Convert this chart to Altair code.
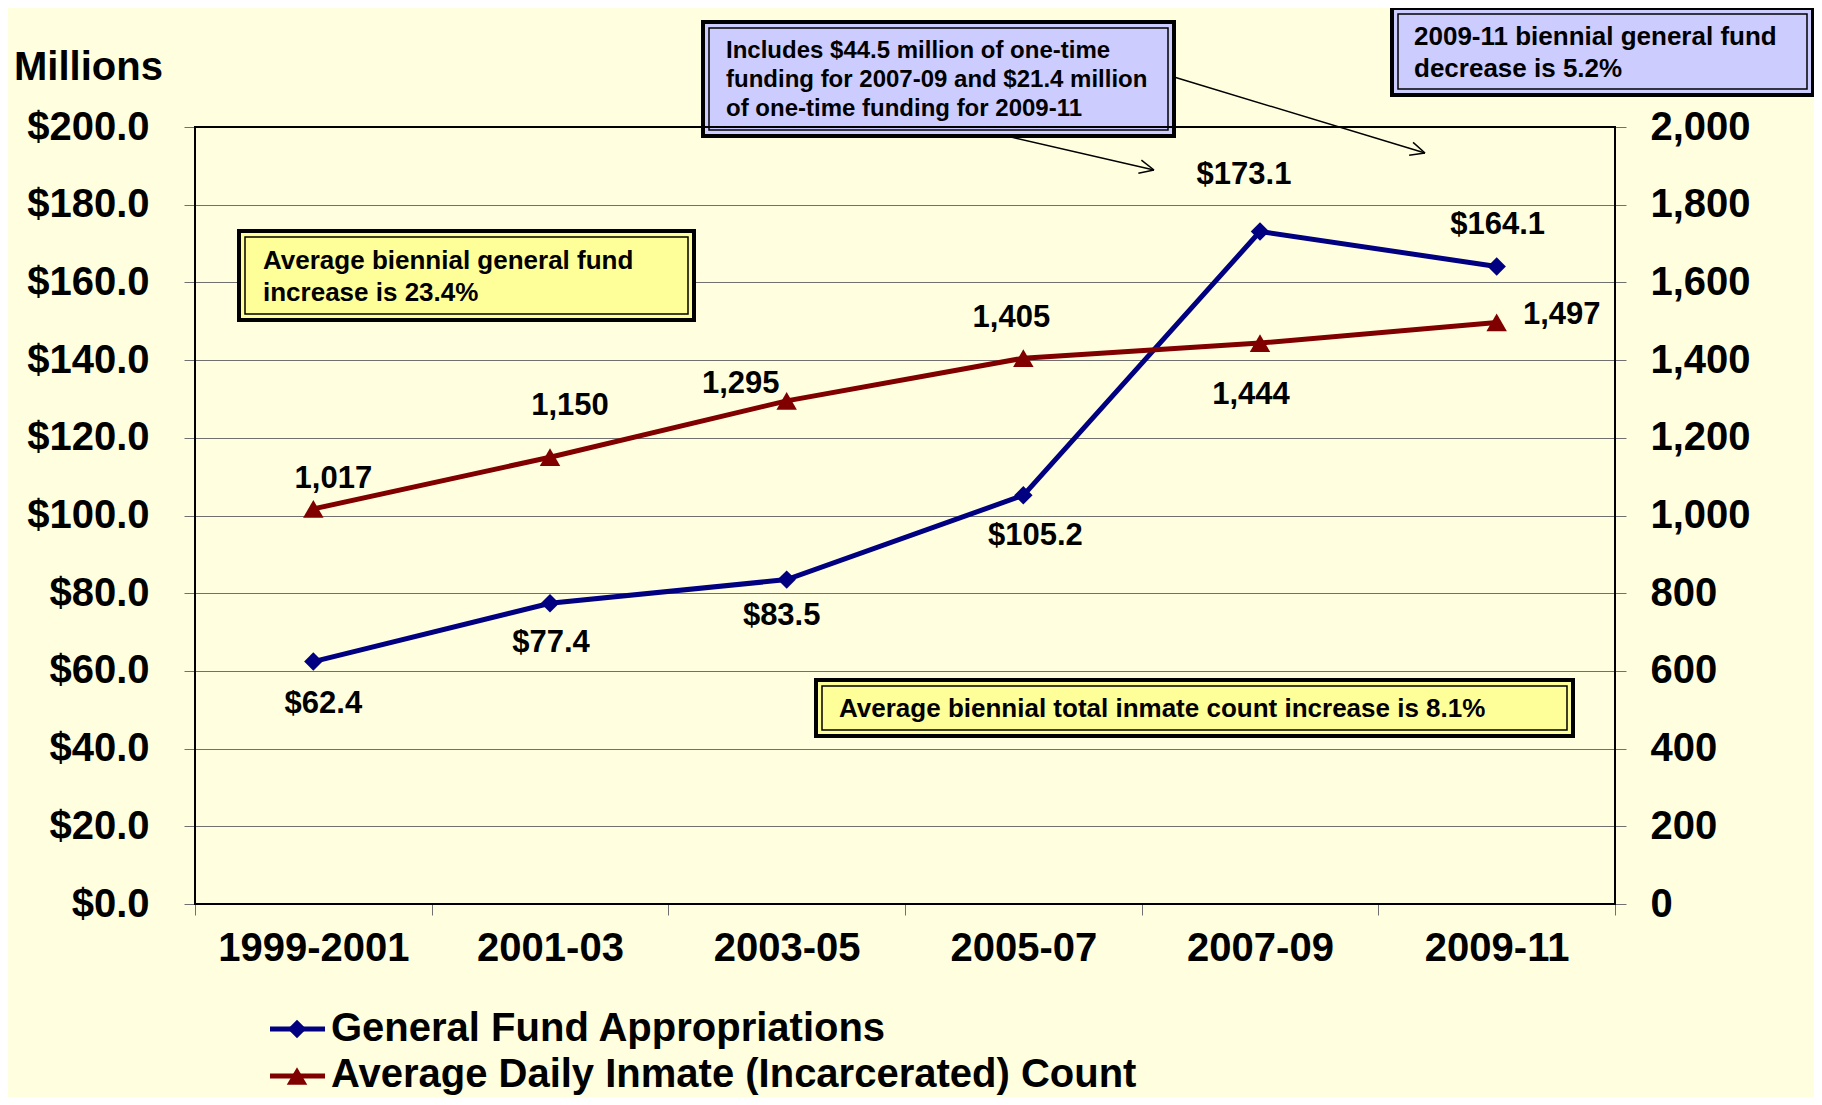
import altair as alt
import pandas as pd
import numpy as np

# ---------------- data ----------------
periods = ["1999-2001", "2001-03", "2003-05", "2005-07", "2007-09", "2009-11"]
fund = [62.4, 77.4, 83.5, 105.2, 173.1, 164.1]
inmates = [1017, 1150, 1295, 1405, 1444, 1497]

fund_ticks = list(range(0, 201, 20))
inmate_ticks = list(range(0, 2001, 200))

# label offsets (layout, pixels)
fund_offsets = [(10, 42), (1, 40), (-5, 36), (12, 41), (-16, -57), (1, -41)]
inmate_offsets = [(20, -30), (20, -51), (-46, -17), (-12, -40), (-9, 52), (65, -7)]

df = pd.DataFrame({"period": periods, "fund": fund, "inmates": inmates})

# ---------------- style ----------------
W, H = 1420, 777
BG = "#FFFFE0"
FONT = "Liberation Sans"
NAVY = "#000080"
MAROON = "#800000"
GRID = "#707070"
YELLOW = "#FFFF99"
LAVENDER = "#CCCCFF"
AXFS = 40

x_enc = alt.X(
    "period:N", sort=periods, bandPosition=0.5,
    scale=alt.Scale(type="band", paddingInner=0, paddingOuter=0),
    axis=alt.Axis(title=None, labelAngle=0, tickBand="extent", domain=False,
                  tickSize=11, tickColor=GRID, labelPadding=13, labelLimit=0,
                  labelFont=FONT, labelFontSize=AXFS, labelFontWeight="bold",
                  labelColor="black", grid=False),
)

y_fund = alt.Y(
    "fund:Q", scale=alt.Scale(domain=[0, 200], nice=False, zero=True),
    axis=alt.Axis(orient="left", title=None, values=fund_ticks, format="$.1f",
                  grid=True, gridColor=GRID, gridWidth=1, domain=False,
                  tickSize=11, tickColor=GRID, labelPadding=35, labelLimit=0,
                  labelFont=FONT, labelFontSize=AXFS, labelFontWeight="bold",
                  labelColor="black"),
)

y_inm = alt.Y(
    "inmates:Q", scale=alt.Scale(domain=[0, 2000], nice=False, zero=True),
    axis=alt.Axis(orient="right", title=None, values=inmate_ticks, format=",d",
                  grid=False, domain=False,
                  tickSize=11, tickColor=GRID, labelPadding=24, labelLimit=0,
                  labelFont=FONT, labelFontSize=AXFS, labelFontWeight="bold",
                  labelColor="black"),
)

base = alt.Chart(df)

fund_line = base.mark_line(color=NAVY, strokeWidth=5).encode(x=x_enc, y=y_fund)
fund_pts = base.mark_point(shape="diamond", filled=True, size=340, color=NAVY,
                           opacity=1).encode(x=x_enc, y=y_fund)
fund_labels = [
    base.transform_filter(alt.datum.period == p).mark_text(
        dx=dx, dy=dy, font=FONT, fontSize=31, fontWeight="bold", color="black",
        align="center", baseline="middle").encode(
        x=x_enc, y=y_fund, text=alt.Text("fund:Q", format="$.1f"))
    for p, (dx, dy) in zip(periods, fund_offsets)
]
fund_layer = alt.layer(fund_line, fund_pts, *fund_labels)

inm_line = base.mark_line(color=MAROON, strokeWidth=5).encode(x=x_enc, y=y_inm)
inm_pts = base.mark_point(shape="triangle-up", filled=True, size=420, color=MAROON,
                          opacity=1).encode(x=x_enc, y=y_inm)
inm_labels = [
    base.transform_filter(alt.datum.period == p).mark_text(
        dx=dx, dy=dy, font=FONT, fontSize=31, fontWeight="bold", color="black",
        align="center", baseline="middle").encode(
        x=x_enc, y=y_inm, text=alt.Text("inmates:Q", format=",d"))
    for p, (dx, dy) in zip(periods, inmate_offsets)
]
inm_layer = alt.layer(inm_line, inm_pts, *inm_labels)

# ---------------- annotations ----------------
one = alt.Data(values=[{"k": 1}])


def rect(x1, y1, x2, y2, fill, sw, opacity=1.0):
    return alt.Chart(one).mark_rect(fill=fill, fillOpacity=opacity, stroke="black",
                                    strokeWidth=sw).encode(
        x=alt.value(x1), x2=alt.value(x2), y=alt.value(y1), y2=alt.value(y2))


def box(x1, y1, x2, y2, fill):
    return [rect(x1, y1, x2, y2, fill, 4),
            rect(x1 + 6, y1 + 6, x2 - 6, y2 - 6, fill, 1.5, 0)]


def text(x, y, s, size, align="left"):
    return alt.Chart(one).mark_text(align=align, baseline="middle", font=FONT,
                                    fontWeight="bold", fontSize=size,
                                    color="black").encode(
        x=alt.value(x), y=alt.value(y), text=alt.value(s))


def rule(x1, y1, x2, y2, color="black", sw=1.5):
    return alt.Chart(one).mark_rule(color=color, strokeWidth=sw).encode(
        x=alt.value(x1), x2=alt.value(x2), y=alt.value(y1), y2=alt.value(y2))


def arrow(x1, y1, x2, y2, head=16, ang=25):
    out = [rule(x1, y1, x2, y2)]
    a = np.arctan2(y2 - y1, x2 - x1)
    for s in (1, -1):
        b = a + np.pi + s * np.radians(ang)
        out.append(rule(x2, y2, float(x2 + head * np.cos(b)),
                        float(y2 + head * np.sin(b))))
    return out


annots = []
annots += box(44, 104, 499, 193, YELLOW)
annots += [text(68, 134, "Average biennial general fund", 26),
           text(68, 166, "increase is 23.4%", 26)]
annots += box(621, 553, 1378, 609, YELLOW)
annots += [text(644, 582, "Average biennial total inmate count increase is 8.1%", 26)]
annots += box(508, -105, 979, 9, LAVENDER)
annots += [text(531, -76, "Includes $44.5 million of one-time", 24),
           text(531, -47, "funding for 2007-09 and $21.4 million", 24),
           text(531, -18, "of one-time funding for 2009-11", 24)]
annots += box(1197, -119, 1618, -32, LAVENDER)
annots += [text(1219, -90, "2009-11 biennial general fund", 26),
           text(1219, -58, "decrease is 5.2%", 26)]
annots += arrow(816, 10, 959, 43)
annots += arrow(979, -50, 1230, 26)

# "Millions" title
annots += [text(-181, -59, "Millions", AXFS)]

# legend
annots += [rule(75, 902, 130, 902, NAVY, 5),
           alt.Chart(one).mark_point(shape="diamond", filled=True, size=340, color=NAVY,
                                     opacity=1).encode(x=alt.value(102), y=alt.value(902)),
           text(136, 902, "General Fund Appropriations", 40),
           rule(75, 949, 130, 949, MAROON, 5),
           alt.Chart(one).mark_point(shape="triangle-up", filled=True, size=420,
                                     color=MAROON, opacity=1).encode(
               x=alt.value(102), y=alt.value(949)),
           text(136, 948, "Average Daily Inmate (Incarcerated) Count", 40)]

# plot frame
annots += [alt.Chart(one).mark_rect(fillOpacity=0, stroke="black", strokeWidth=2).encode(
    x=alt.value(0), x2=alt.value(W), y=alt.value(0), y2=alt.value(H))]

chart = alt.layer(fund_layer, inm_layer, *annots).resolve_scale(
    y="independent"
).properties(
    width=W, height=H, background=BG, autosize="none",
    padding={"left": 187, "top": 119, "right": 199, "bottom": 193},
).configure_view(stroke="transparent")

chart.save("out.html", embed_options={"renderer": "svg", "actions": False})
